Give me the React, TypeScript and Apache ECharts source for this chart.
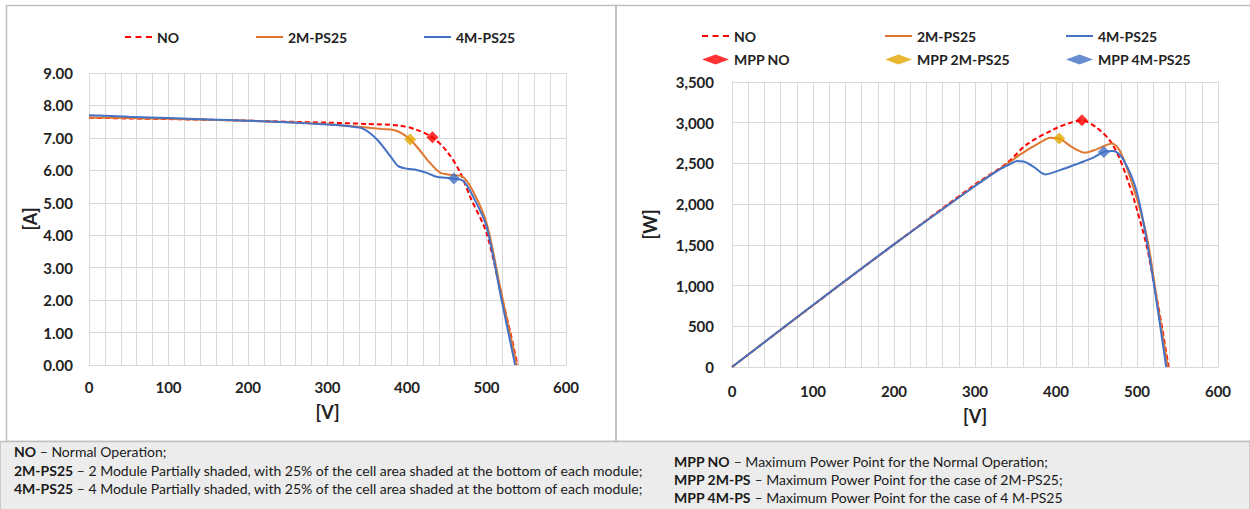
import React, { useEffect, useRef } from "react";
import * as echarts from "echarts";

// ---------- DATA ----------
// I-V curves: voltage [V] and current [A]
const ivNoV = [0, 50, 100, 150, 200, 250, 300, 350, 390, 410, 432, 450, 466, 480, 500, 520, 530, 539];
const ivNoI = [7.62, 7.6, 7.58, 7.56, 7.53, 7.5, 7.47, 7.43, 7.38, 7.27, 7.02, 6.59, 5.98, 5.15, 4.07, 2.0, 1.0, 0];

const iv2mV = [0, 50, 100, 150, 200, 250, 300, 340, 370, 383, 393, 404, 415, 425, 441, 455, 469, 483, 500, 517, 538];
const iv2mI = [7.63, 7.61, 7.59, 7.56, 7.53, 7.48, 7.42, 7.34, 7.27, 7.24, 7.15, 6.95, 6.65, 6.34, 5.94, 5.86, 5.82, 5.36, 4.38, 2.42, 0];

const iv4mV = [0, 50, 100, 150, 200, 250, 300, 330, 345, 362, 379, 389, 400, 412, 425, 437, 448, 458, 471, 483, 500, 519, 536];
const iv4mI = [7.7, 7.65, 7.61, 7.57, 7.53, 7.48, 7.41, 7.35, 7.28, 6.96, 6.44, 6.13, 6.05, 6.01, 5.92, 5.8, 5.77, 5.75, 5.67, 5.2, 4.27, 2.0, 0];

// P-V curves: voltage [V] and power [W]
const pvNoV = [0, 100, 200, 300, 340, 364, 397, 415, 432, 450, 467, 479, 495, 512, 520, 530, 539];
const pvNoP = [0, 758, 1506, 2241, 2509, 2734, 2918, 2990, 3029, 2940, 2775, 2550, 2099, 1484, 1074, 540, 0];

const pv2mV = [0, 100, 200, 300, 340, 356, 380, 393, 404, 421, 436, 450, 469, 479, 495, 512, 525, 538];
const pv2mP = [0, 759, 1506, 2226, 2496, 2611, 2755, 2816, 2804, 2693, 2632, 2673, 2746, 2652, 2222, 1607, 800, 0];

const pv4mV = [0, 100, 200, 300, 330, 345, 352, 360, 372, 387, 405, 430, 446, 459, 471, 483, 500, 516, 536];
const pv4mP = [0, 761, 1506, 2223, 2425, 2500, 2529, 2525, 2460, 2365, 2418, 2509, 2571, 2640, 2652, 2550, 2140, 1320, 0];

// Maximum power points
const mppV = [432, 404, 459];
const mppI = [7.02, 6.95, 5.75];
const mppP = [3030, 2805, 2640];

const seriesNames = ["NO", "2M-PS25", "4M-PS25"];
const mppNames = ["MPP NO", "MPP 2M-PS25", "MPP 4M-PS25"];

const notesLeft = [
  ["NO", " – Normal Operation;"],
  ["2M-PS25", " – 2 Module Partially shaded, with 25% of the cell area shaded at the bottom of each module;"],
  ["4M-PS25", " – 4 Module Partially shaded, with 25% of the cell area shaded at the bottom of each module;"],
];
const notesRight = [
  ["MPP NO", " – Maximum Power Point for the Normal Operation;"],
  ["MPP 2M-PS", " – Maximum Power Point for the case of 2M-PS25;"],
  ["MPP 4M-PS", " – Maximum Power Point for the case of 4 M-PS25"],
];

// ---------- STYLE ----------
const FONT = "Lato";
const RED = "#ff0000";
const ORANGE = "#e0762f";
const BLUE = "#4472c4";
const GOLD = "#e3a600";
const GRID = "#d9d9d9";

const ICON_DASH = "path://M0,0H6V2H0Z M10.5,0H16.5V2H10.5Z M21,0H27V2H21Z";
const ICON_SOLID = "path://M0,0H27V2H0Z";

const zip = (a: number[], b: number[]) => a.map((v, i) => [v, b[i]]);

export default function App() {
  const ref = useRef<HTMLDivElement>(null);

  useEffect(() => {
    if (!ref.current) return;
    const chart = echarts.init(ref.current, undefined, { renderer: "svg" });

    const xAxisBase = (gridIndex: number, nameGap: number, labelMargin: number) => ({
      type: "value",
      gridIndex,
      min: 0,
      max: 600,
      interval: 100,
      name: "[V]",
      nameLocation: "middle",
      nameGap,
      nameTextStyle: { fontFamily: FONT, fontWeight: "bold", fontSize: 18, color: "#222" },
      axisLine: { show: true, lineStyle: { color: GRID } },
      axisTick: { show: false },
      axisLabel: { fontFamily: FONT, fontWeight: "bold", fontSize: 15, color: "#222", margin: labelMargin },
      splitLine: { show: true, lineStyle: { color: GRID, width: 1 } },
      minorTick: { show: false, splitNumber: 5 },
      minorSplitLine: { show: true, lineStyle: { color: GRID, width: 1 } },
    });

    const lineSeries = (name: string, data: number[][], color: string, dashed: boolean, idx: number) => ({
      name,
      type: "line",
      xAxisIndex: idx,
      yAxisIndex: idx,
      data,
      symbol: "none",
      smooth: 0.3,
      lineStyle: { color, width: 2, type: dashed ? [5, 3] : "solid" },
      itemStyle: { color },
      z: 3,
    });

    const mppSeries = (name: string, point: number[], color: string, idx: number) => ({
      name,
      type: "scatter",
      xAxisIndex: idx,
      yAxisIndex: idx,
      data: [point],
      symbol: "diamond",
      symbolSize: 12,
      itemStyle: { color },
      z: 5,
    });

    const legendText = { fontFamily: FONT, fontWeight: "bold", fontSize: 14, color: "#222" };
    const mkLegend = (name: string, icon: string, left: number, top: number, h: number) => ({
      data: [{ name, icon }],
      left,
      top,
      padding: 0,
      itemWidth: 27,
      itemHeight: h,
      itemGap: 0,
      selectedMode: false,
      textStyle: legendText,
    });

    const noteText = (rows: string[][], x: number, ys: number[]) =>
      rows.map((r, i) => ({
        type: "text",
        x,
        y: ys[i],
        style: {
          text: `{b|${r[0]}}{n|${r[1]}}`,
          verticalAlign: "middle",
          rich: {
            b: { fontFamily: FONT, fontWeight: "bold", fontSize: 14, fill: "#1a1a1a" },
            n: { fontFamily: FONT, fontSize: 14, fill: "#1a1a1a" },
          },
        },
        z: 10,
      }));

    const option = {
      animation: false,
      backgroundColor: "#ffffff",
      grid: [
        { left: 89, top: 73, width: 477, height: 292 },
        { left: 732, top: 82, width: 486, height: 285 },
      ],
      xAxis: [xAxisBase(0, 38, 14), xAxisBase(1, 40, 16)],
      yAxis: [
        {
          type: "value",
          gridIndex: 0,
          min: 0,
          max: 9,
          interval: 1,
          name: "[A]",
          nameLocation: "middle",
          nameGap: 50,
          nameTextStyle: { fontFamily: FONT, fontWeight: "bold", fontSize: 18, color: "#222" },
          axisLine: { show: false },
          axisTick: { show: false },
          axisLabel: {
            fontFamily: FONT, fontWeight: "bold", fontSize: 15, color: "#222", margin: 16,
            formatter: (v: number) => v.toFixed(2),
          },
          splitLine: { show: true, lineStyle: { color: GRID, width: 1 } },
        },
        {
          type: "value",
          gridIndex: 1,
          min: 0,
          max: 3500,
          interval: 500,
          name: "[W]",
          nameLocation: "middle",
          nameGap: 73,
          nameTextStyle: { fontFamily: FONT, fontWeight: "bold", fontSize: 18, color: "#222" },
          axisLine: { show: false },
          axisTick: { show: false },
          axisLabel: {
            fontFamily: FONT, fontWeight: "bold", fontSize: 15, color: "#222", margin: 18,
            formatter: (v: number) => v.toLocaleString("en-US"),
          },
          splitLine: { show: true, lineStyle: { color: GRID, width: 1 } },
        },
      ],
      legend: [
        mkLegend(seriesNames[0], ICON_DASH, 125, 30, 2),
        mkLegend(seriesNames[1], ICON_SOLID, 256, 30, 2),
        mkLegend(seriesNames[2], ICON_SOLID, 424, 30, 2),
        mkLegend(seriesNames[0], ICON_DASH, 702, 29, 2),
        mkLegend(seriesNames[1], ICON_SOLID, 885, 29, 2),
        mkLegend(seriesNames[2], ICON_SOLID, 1066, 29, 2),
        mkLegend(mppNames[0], "diamond", 702, 52.5, 10),
        mkLegend(mppNames[1], "diamond", 885, 52.5, 10),
        mkLegend(mppNames[2], "diamond", 1066, 52.5, 10),
      ],
      series: [
        lineSeries(seriesNames[0], zip(ivNoV, ivNoI), RED, true, 0),
        lineSeries(seriesNames[1], zip(iv2mV, iv2mI), ORANGE, false, 0),
        lineSeries(seriesNames[2], zip(iv4mV, iv4mI), BLUE, false, 0),
        mppSeries("mppL0", [mppV[0], mppI[0]], RED, 0),
        mppSeries("mppL1", [mppV[1], mppI[1]], GOLD, 0),
        mppSeries("mppL2", [mppV[2], mppI[2]], BLUE, 0),
        lineSeries(seriesNames[0], zip(pvNoV, pvNoP), RED, true, 1),
        lineSeries(seriesNames[1], zip(pv2mV, pv2mP), ORANGE, false, 1),
        lineSeries(seriesNames[2], zip(pv4mV, pv4mP), BLUE, false, 1),
        mppSeries(mppNames[0], [mppV[0], mppP[0]], RED, 1),
        mppSeries(mppNames[1], [mppV[1], mppP[1]], GOLD, 1),
        mppSeries(mppNames[2], [mppV[2], mppP[2]], BLUE, 1),
      ],
      graphic: [
        {
          type: "rect",
          shape: { x: 6.5, y: 5.5, width: 609.5, height: 436 },
          style: { fill: "none", stroke: "#bfbfbf", lineWidth: 1.5 },
          z: 1,
        },
        {
          type: "rect",
          shape: { x: 616, y: 5.5, width: 640, height: 436 },
          style: { fill: "none", stroke: "#bfbfbf", lineWidth: 1.5 },
          z: 1,
        },
        {
          type: "rect",
          shape: { x: 0, y: 441.5, width: 1250, height: 70 },
          style: { fill: "#ececec", stroke: "#bfbfbf", lineWidth: 1.5 },
          z: 1,
        },
        ...noteText(notesLeft, 14, [451, 470, 488]),
        ...noteText(notesRight, 674, [461, 479, 497]),
      ],
    };

    chart.setOption(option as any);
    return () => chart.dispose();
  }, []);

  return (
    <div
      ref={ref}
      style={{ position: "fixed", left: 0, top: 0, width: 1250, height: 509 }}
    />
  );
}
